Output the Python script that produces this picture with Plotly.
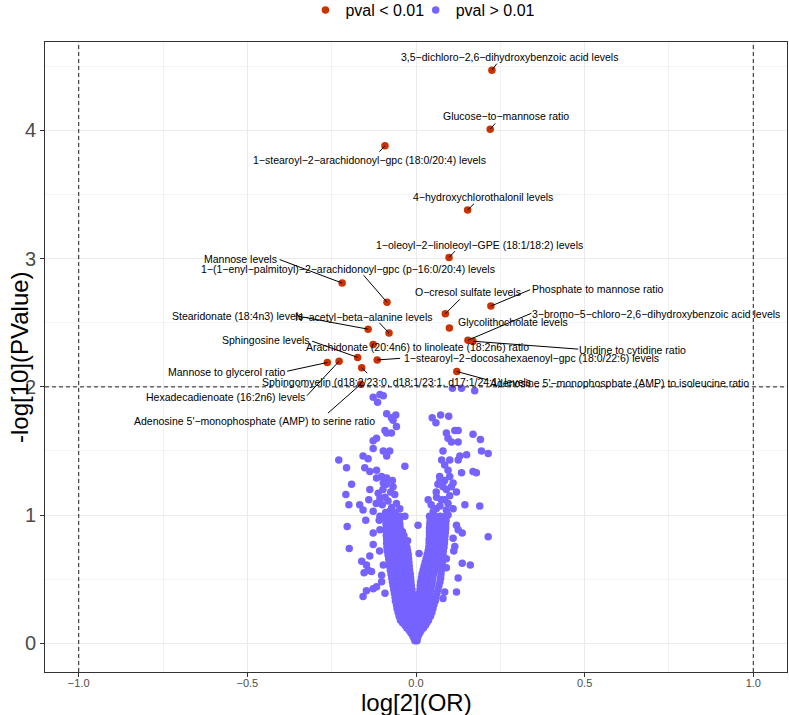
import plotly.graph_objects as go

FONT = "Liberation Sans, Arial, sans-serif"
RED = "#CC3300"
BLUE = "#7663FF"

# ---------------- significant metabolites (pval < 0.01) ----------------
sig_labels = [
    "3,5-dichloro-2,6-dihydroxybenzoic acid levels",
    "Glucose-to-mannose ratio",
    "1-stearoyl-2-arachidonoyl-gpc (18:0/20:4) levels",
    "4-hydroxychlorothalonil levels",
    "1-oleoyl-2-linoleoyl-GPE (18:1/18:2) levels",
    "Mannose levels",
    "1-(1-enyl-palmitoyl)-2-arachidonoyl-gpc (p-16:0/20:4) levels",
    "O-cresol sulfate levels",
    "Phosphate to mannose ratio",
    "Glycolithocholate levels",
    "Stearidonate (18:4n3) levels",
    "N-acetyl-beta-alanine levels",
    "3-bromo-5-chloro-2,6-dihydroxybenzoic acid levels",
    "Uridine to cytidine ratio",
    "Sphingosine levels",
    "Arachidonate (20:4n6) to linoleate (18:2n6) ratio",
    "1-stearoyl-2-docosahexaenoyl-gpc (18:0/22:6) levels",
    "Mannose to glycerol ratio",
    "Hexadecadienoate (16:2n6) levels",
    "Sphingomyelin (d18:2/23:0, d18:1/23:1, d17:1/24:1) levels",
    "Adenosine 5'-monophosphate (AMP) to serine ratio",
    "Adenosine 5'-monophosphate (AMP) to isoleucine ratio",
]
sig_logOR = [0.225, 0.220, -0.092, 0.153, 0.098, -0.219, -0.086, 0.087, 0.222, 0.099,
             -0.142, -0.080, 0.154, 0.169, -0.173, -0.127, -0.115, -0.263, -0.228,
             -0.161, -0.164, 0.121]
sig_logP = [4.47, 4.01, 3.88, 3.38, 3.01, 2.81, 2.66, 2.57, 2.63, 2.46,
            2.45, 2.42, 2.364, 2.356, 2.23, 2.33, 2.21, 2.19, 2.20,
            2.15, 2.02, 2.12]

# label placement: text-centre offset and connector end offset, screen px from the point
label_dx = [18, 16, -15.6, 15.3, 30.7, -101.3, -38.6, 23, 106.5, 64.1,
            -130.8, -25.1, 187.9, 159.7, -91.4, 43.9, 154.4, -101.1, -113.5,
            34.3, -106.5, 162.2]
label_dy = [-13, -13, 14, -13, -12.7, -24, -33.4, -21.6, -17, -5.6,
            -13.3, -16, -26.3, 8.7, -17, 2.7, -2.4, 9, 36,
            14.2, 36.7, 11.7]
seg_dx = [6, 6.4, -7, 8, 7.4, -64, -24.6, 16, 40.7, None,
          -71.6, -11, 65, 106.7, -47, None, 24.4, -41.6, -33.6,
          7, -34.3, 33]
seg_dy = [-8, -7.3, 7.3, -7.7, -7.7, -24, -28.4, -16, -17, None,
          -13.3, -11.6, -27.6, 8, -16.7, None, -1.7, 9, 36,
          7, 30.2, 9]

# ---------------- non-significant metabolites (pval > 0.01) ----------------
# dense V core: (logP, [logOR values at that level])
nonsig_core_rows = [
    (0.02, [-0.003, 0.003]),
    (0.04, [-0.006, 0.004]),
    (0.06, [-0.010, -0.003, 0.003, 0.007]),
    (0.08, [-0.015, -0.004, 0.004, 0.011]),
    (0.10, [-0.020, -0.008, 0.004, 0.015]),
    (0.12, [-0.027, -0.015, -0.004, 0.004, 0.014, 0.022]),
    (0.14, [-0.033, -0.020, -0.006, 0.005, 0.017, 0.028]),
    (0.16, [-0.040, -0.027, -0.014, -0.005, 0.005, 0.018, 0.032]),
    (0.18, [-0.046, -0.033, -0.019, -0.006, 0.005, 0.020, 0.037]),
    (0.21, [-0.050, -0.037, -0.024, -0.011, 0.006, 0.019, 0.031, 0.043]),
    (0.24, [-0.053, -0.040, -0.027, -0.013, -0.005, 0.006, 0.020, 0.034, 0.047]),
    (0.27, [-0.056, -0.043, -0.030, -0.017, -0.006, 0.006, 0.019, 0.033, 0.050]),
    (0.30, [-0.058, -0.045, -0.032, -0.019, -0.007, 0.007, 0.021, 0.036, 0.053]),
    (0.33, [-0.061, -0.047, -0.034, -0.021, -0.008, 0.008, 0.022, 0.038, 0.057]),
    (0.36, [-0.062, -0.048, -0.035, -0.022, -0.009, 0.009, 0.024, 0.040, 0.059]),
    (0.39, [-0.064, -0.050, -0.036, -0.023, -0.011, 0.010, 0.025, 0.041, 0.062]),
    (0.42, [-0.066, -0.052, -0.038, -0.025, -0.012, 0.012, 0.027, 0.043, 0.065]),
    (0.45, [-0.068, -0.054, -0.040, -0.027, -0.014, 0.013, 0.029, 0.046, 0.068]),
    (0.48, [-0.070, -0.056, -0.042, -0.028, -0.015, 0.014, 0.030, 0.048, 0.071]),
    (0.51, [-0.072, -0.058, -0.044, -0.030, -0.016, 0.016, 0.032, 0.050, 0.073]),
    (0.54, [-0.074, -0.060, -0.045, -0.031, -0.017, 0.018, 0.034, 0.052, 0.074]),
    (0.57, [-0.076, -0.061, -0.047, -0.033, -0.019, 0.021, 0.037, 0.055, 0.075]),
    (0.60, [-0.078, -0.063, -0.049, -0.034, -0.020, 0.024, 0.040, 0.058, 0.077]),
    (0.63, [-0.079, -0.064, -0.050, -0.035, -0.021, 0.027, 0.043, 0.061, 0.078]),
    (0.66, [-0.081, -0.066, -0.051, -0.036, -0.022, 0.030, 0.046, 0.063, 0.079]),
    (0.69, [-0.083, -0.068, -0.053, -0.038, -0.023, 0.033, 0.049, 0.065, 0.080]),
    (0.72, [-0.085, -0.070, -0.055, -0.040, -0.025, 0.036, 0.051, 0.067, 0.081]),
    (0.75, [-0.086, -0.071, -0.056, -0.041, -0.027, 0.038, 0.053, 0.068, 0.083]),
    (0.78, [-0.087, -0.072, -0.057, -0.043, -0.030, 0.039, 0.054, 0.070, 0.084]),
    (0.81, [-0.087, -0.073, -0.058, -0.045, -0.033, 0.039, 0.055, 0.071, 0.085]),
    (0.84, [-0.088, -0.074, -0.060, -0.047, -0.036, 0.040, 0.056, 0.072, 0.086]),
    (0.87, [-0.088, -0.074, -0.060, -0.048, -0.040, 0.040, 0.056, 0.072, 0.087]),
    (0.90, [-0.088, -0.075, -0.061, -0.047, 0.040, 0.057, 0.073, 0.088]),
    (0.93, [-0.089, -0.075, -0.061, -0.048, 0.041, 0.057, 0.073, 0.088]),
    (0.96, [-0.089, -0.076, -0.062, -0.049, 0.042, 0.058, 0.074, 0.089]),
    (0.99, [-0.090, -0.076, -0.062, -0.048, 0.040, 0.056, 0.072, 0.088]),
]

# scattered points below logP = 1: (logOR, logP)
nonsig_fringe = [
    (-0.204, 0.91), (-0.198, 0.74), (-0.149, 0.96), (-0.127, 0.86), (-0.107, 0.885),
    (-0.109, 0.96), (-0.161, 0.64), (-0.147, 0.61), (-0.137, 0.68), (-0.154, 0.55),
    (-0.142, 0.57), (-0.157, 0.365), (-0.147, 0.41), (-0.127, 0.425), (-0.117, 0.44),
    (-0.092, 0.39), (-0.102, 0.48), (-0.127, 0.77), (-0.108, 0.72), (-0.097, 0.61),
    (-0.102, 0.53), (-0.132, 0.56),
    (0.214, 0.83), (0.137, 0.625), (0.161, 0.61), (0.125, 0.51), (0.120, 0.40),
    (0.137, 0.86), (0.120, 0.92), (0.115, 0.755), (0.110, 0.82), (0.125, 0.885),
    (0.112, 0.72), (0.090, 0.66), (0.090, 0.59), (0.085, 0.40), (0.080, 0.35),
    (0.006, 0.92), (-0.025, 0.80), (0.009, 0.70),
]

# points between logP = 1 and 2: (logOR, logP)
nonsig_upper = [
    (-0.127, 1.92), (-0.107, 1.94), (-0.097, 1.93), (-0.114, 1.88),
    (-0.087, 1.79), (-0.073, 1.76), (-0.060, 1.78), (-0.068, 1.74), (-0.058, 1.69),
    (-0.092, 1.66), (-0.087, 1.64), (-0.073, 1.64), (-0.117, 1.60), (-0.127, 1.58),
    (-0.127, 1.52), (-0.097, 1.50), (-0.078, 1.50), (-0.087, 1.46), (-0.157, 1.46),
    (-0.142, 1.44), (-0.229, 1.43), (-0.206, 1.37), (-0.033, 1.38), (-0.152, 1.37),
    (-0.137, 1.34), (-0.117, 1.35), (-0.102, 1.30), (-0.117, 1.29), (-0.087, 1.29),
    (-0.097, 1.25), (-0.068, 1.22), (-0.191, 1.24), (-0.208, 1.16), (-0.199, 1.08),
    (-0.167, 1.08), (-0.157, 1.04), (-0.112, 1.17), (-0.107, 1.13), (-0.092, 1.14),
    (-0.083, 1.11), (-0.063, 1.16), (-0.058, 1.09), (-0.048, 1.05), (-0.137, 1.20),
    (-0.127, 1.03), (-0.078, 1.03), (-0.033, 0.99), (-0.107, 0.99),
    (-0.098, 1.20), (-0.075, 1.18), (-0.070, 1.27), (-0.088, 1.24), (-0.100, 1.08),
    (-0.090, 1.02), (-0.062, 1.02), (-0.072, 1.06), (-0.118, 1.09), (-0.140, 1.12),
    (0.108, 1.99), (0.135, 1.99), (0.174, 1.97),
    (0.048, 1.76), (0.059, 1.72), (0.073, 1.78), (0.097, 1.77),
    (0.115, 1.66), (0.125, 1.66), (0.090, 1.64), (0.095, 1.60), (0.105, 1.57),
    (0.125, 1.57), (0.169, 1.63), (0.191, 1.59), (0.080, 1.50), (0.194, 1.50),
    (0.214, 1.48), (0.150, 1.47), (0.130, 1.46), (0.125, 1.43), (0.076, 1.43),
    (0.085, 1.39), (0.100, 1.43), (0.169, 1.34), (0.179, 1.33), (0.135, 1.33),
    (0.095, 1.35), (0.071, 1.27), (0.080, 1.22), (0.090, 1.20), (0.105, 1.22),
    (0.100, 1.30), (0.036, 1.12), (0.061, 1.14), (0.145, 1.08), (0.189, 1.07),
    (0.071, 1.07), (0.090, 1.04), (0.085, 1.12), (0.051, 1.03), (0.095, 1.00),
    (0.060, 1.18), (0.075, 1.12), (0.100, 1.15), (0.110, 1.05), (0.060, 1.05),
    (0.045, 1.08), (0.070, 1.30), (0.085, 1.27), (0.110, 1.25), (0.120, 1.18),
    (0.095, 1.09), (0.065, 1.24),
]

x_ticks = [-1.0, -0.5, 0.0, 0.5, 1.0]
x_ticktext = ["\u22121.0", "\u22120.5", "0.0", "0.5", "1.0"]
y_ticks = [0, 1, 2, 3, 4]
x_title = "log[2](OR)"
y_title = "-log[10](PValue)"

# ---------------- assemble ----------------
nonsig_x, nonsig_y = [], []
for yv, xs in nonsig_core_rows:
    for xv in xs:
        nonsig_x.append(xv)
        nonsig_y.append(yv)
for xv, yv in nonsig_fringe + nonsig_upper:
    nonsig_x.append(xv)
    nonsig_y.append(yv)

fig = go.Figure()
fig.add_trace(go.Scatter(x=sig_logOR, y=sig_logP, mode="markers", name="pval < 0.01",
                         marker=dict(color=RED, size=7.5), hoverinfo="skip",
                         legend="legend"))
fig.add_trace(go.Scatter(x=nonsig_x, y=nonsig_y, mode="markers", name="pval > 0.01",
                         marker=dict(color=BLUE, size=7.5), hoverinfo="skip",
                         legend="legend2"))

annotations = []
for lab, xv, yv, dx, dy, sx, sy in zip(sig_labels, sig_logOR, sig_logP,
                                       label_dx, label_dy, seg_dx, seg_dy):
    if sx is not None:
        annotations.append(dict(x=xv, y=yv, xref="x", yref="y", text="",
                                showarrow=True, ax=sx, ay=sy, arrowhead=0,
                                arrowwidth=1, arrowcolor="black", standoff=0,
                                startstandoff=0))
    annotations.append(dict(x=xv, y=yv, xref="x", yref="y",
                            text=lab.replace("-", "\u2212"), showarrow=False,
                            xshift=dx, yshift=-dy, xanchor="center", yanchor="middle",
                            font=dict(size=10.5, color="black", family=FONT)))

# axis titles
annotations.append(dict(xref="paper", yref="paper", x=0.5, y=-0.0492, text=x_title,
                        showarrow=False, xanchor="center", yanchor="middle",
                        font=dict(size=24, color="black", family=FONT)))
annotations.append(dict(xref="paper", yref="paper", x=-0.0350, y=0.5, text=y_title,
                        showarrow=False, xanchor="center", yanchor="middle", textangle=-90,
                        font=dict(size=24, color="black", family=FONT)))

dash_line = dict(color="#222222", width=1, dash="4px,3px")
shapes = [
    dict(type="line", xref="x", yref="paper", x0=-1, x1=-1, y0=0, y1=1, line=dash_line, layer="above"),
    dict(type="line", xref="x", yref="paper", x0=1, x1=1, y0=0, y1=1, line=dash_line, layer="above"),
    dict(type="line", xref="paper", yref="y", x0=0, x1=1, y0=2, y1=2, line=dash_line, layer="above"),
]

axis_common = dict(showline=True, mirror=True, linecolor="#333333", linewidth=1,
                   ticks="outside", ticklen=4, tickcolor="#333333", tickwidth=1,
                   showgrid=True, gridcolor="#EBEBEB", gridwidth=1, zeroline=False,
                   automargin=False)

legend_common = dict(orientation="h", yref="container", y=0.986, yanchor="middle",
                     xanchor="left", font=dict(size=16, color="black", family=FONT),
                     bgcolor="rgba(0,0,0,0)", itemwidth=30)

fig.update_layout(
    width=789, height=715,
    margin=dict(l=45, r=2, t=42, b=43, pad=0, autoexpand=False),
    plot_bgcolor="white", paper_bgcolor="white",
    font=dict(family=FONT, color="black"),
    showlegend=True,
    legend=dict(x=0.351, **legend_common),
    legend2=dict(x=0.4996, **legend_common),
    xaxis=dict(range=[-1.1, 1.1], tickvals=x_ticks, ticktext=x_ticktext,
               tickfont=dict(size=11, color="#4D4D4D", family=FONT),
               ticklabelstandoff=-3,
               minor=dict(tickvals=[-0.75, -0.25, 0.25, 0.75], showgrid=True,
                          gridcolor="#F3F3F3", gridwidth=1, ticks=""),
               **axis_common),
    yaxis=dict(range=[-0.224, 4.69], tickvals=y_ticks,
               tickfont=dict(size=20, color="#4D4D4D", family=FONT),
               minor=dict(tickvals=[0.5, 1.5, 2.5, 3.5, 4.5], showgrid=True,
                          gridcolor="#F3F3F3", gridwidth=1, ticks=""),
               **axis_common),
    annotations=annotations,
    shapes=shapes,
)

fig.write_html("out.html")
